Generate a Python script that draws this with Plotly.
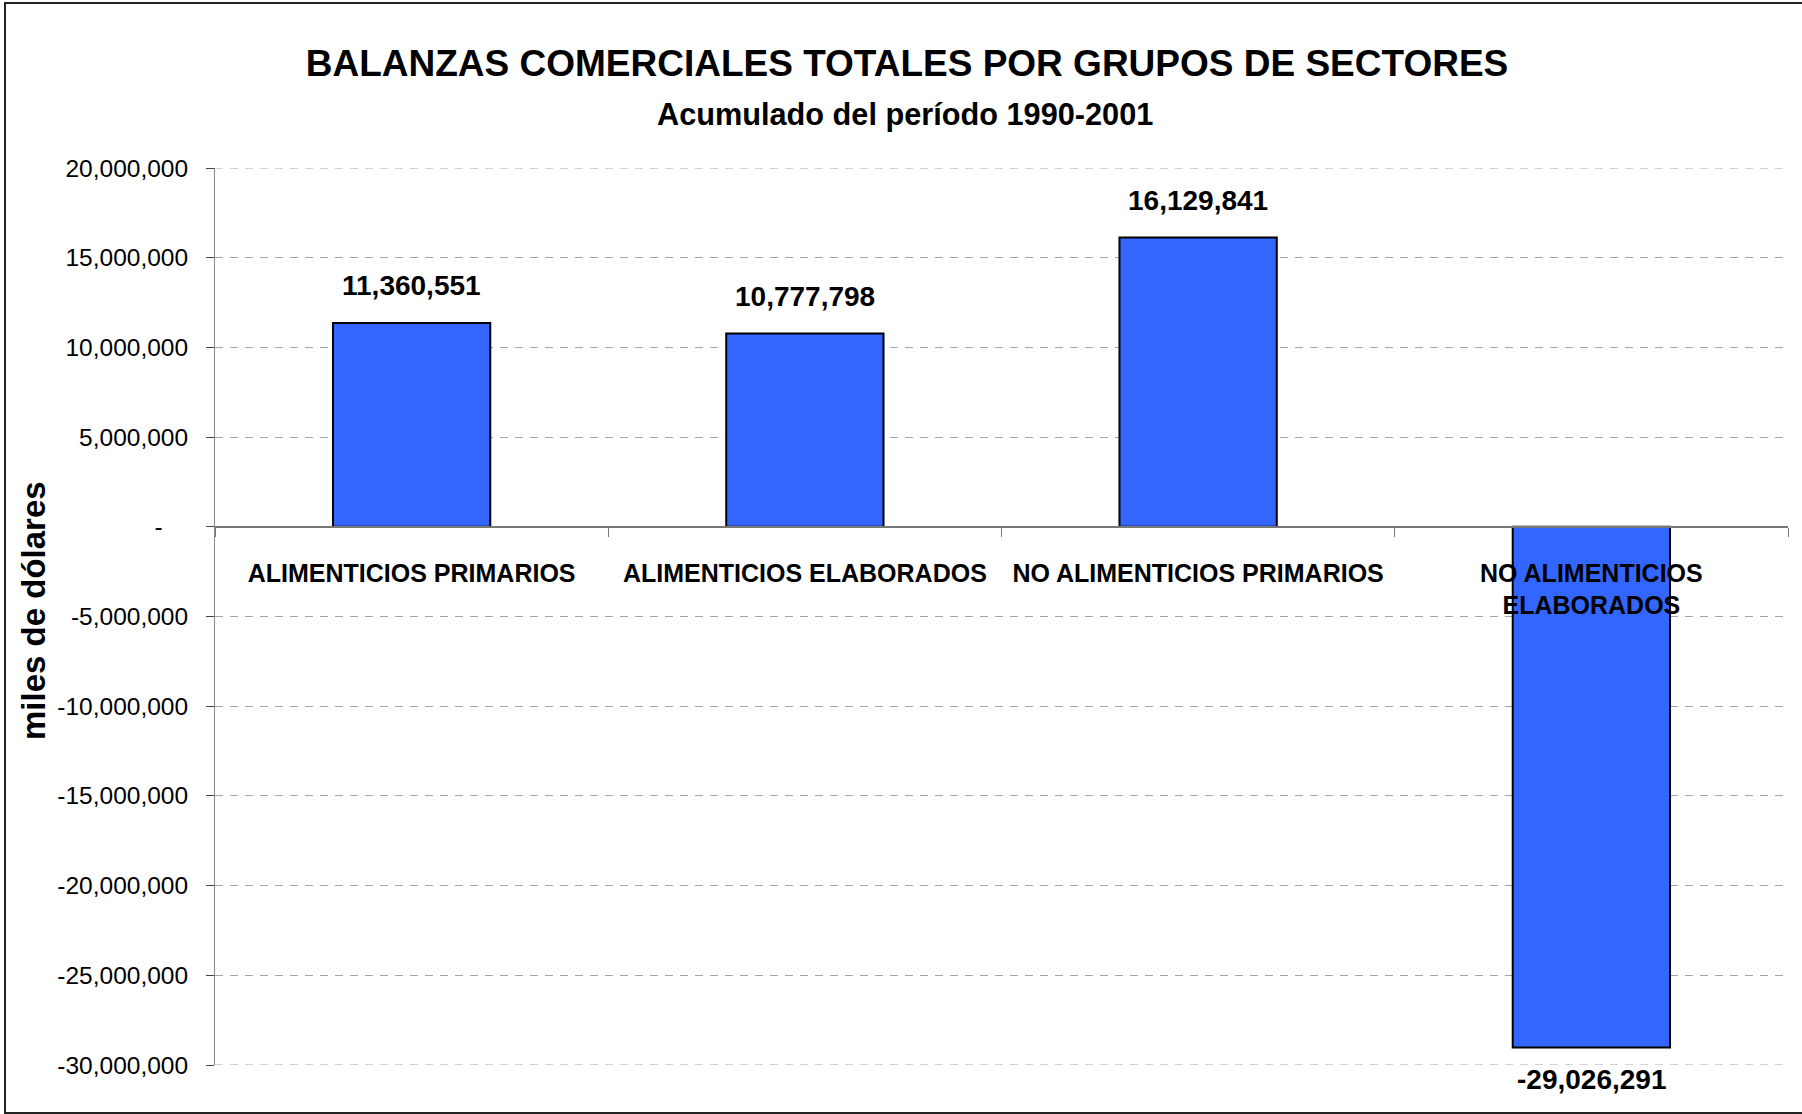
import plotly.graph_objects as go

categories = ["ALIMENTICIOS PRIMARIOS", "ALIMENTICIOS ELABORADOS",
              "NO ALIMENTICIOS PRIMARIOS", "NO ALIMENTICIOS<br>ELABORADOS"]
values = [11360551, 10777798, 16129841, -29026291]
ytick_vals = [20000000, 15000000, 10000000, 5000000, 0,
              -5000000, -10000000, -15000000, -20000000, -25000000, -30000000]
ytick_text = ["20,000,000", "15,000,000", "10,000,000", "5,000,000",
              "-\u00a0\u00a0\u00a0\u2009",
              "-5,000,000", "-10,000,000", "-15,000,000", "-20,000,000",
              "-25,000,000", "-30,000,000"]

FONT = "Liberation Sans, Arial, sans-serif"
W, H = 1802, 1114
L, R, T, B = 215, 14, 168, 49
PW, PH = W - L - R, H - T - B
GRID = "#A6A6A6"

fig = go.Figure()
fig.add_trace(go.Bar(
    x=categories, y=values, width=0.4,
    marker=dict(color="#3366FF", line=dict(color="#000000", width=2)),
    hoverinfo="x+y",
))

# data labels
for c, v in zip(categories, values):
    fig.add_annotation(
        x=c, y=v, xref="x", yref="y",
        text=f"{v:,}", showarrow=False,
        yanchor="middle", yshift=37 if v >= 0 else -32,
        font=dict(family=FONT, size=28, color="#000000", weight="bold"),
    )

# gridlines at the range ends (plotly omits them at the plot edges)
for yv in (ytick_vals[0], ytick_vals[-1]):
    fig.add_shape(type="line", xref="paper", yref="y", x0=0, x1=1, y0=yv, y1=yv,
                  line=dict(color=GRID, width=1, dash="8px,7px"), layer="below")

# subtitle
fig.add_annotation(
    x=(905 - L) / PW, y=(H - B - 115) / PH, xref="paper", yref="paper",
    text="Acumulado del período 1990-2001", showarrow=False,
    xanchor="center", yanchor="middle",
    font=dict(family=FONT, size=30.7, color="#000000", weight="bold"),
)

# y-axis title
fig.add_annotation(
    x=(33 - L) / PW, y=(H - B - 611) / PH, xref="paper", yref="paper",
    text="miles de dólares", showarrow=False, textangle=-90,
    xanchor="center", yanchor="middle",
    font=dict(family=FONT, size=33, color="#000000", weight="bold"),
)

# outer chart border
fig.add_shape(
    type="rect", xref="paper", yref="paper",
    x0=(5 - L) / PW, x1=(W + 5 - L) / PW,
    y0=(H - B - 1113) / PH, y1=(H - B - 3) / PH,
    line=dict(color="#222222", width=2), fillcolor="rgba(0,0,0,0)", layer="above",
)

fig.update_layout(
    width=W, height=H,
    margin=dict(l=L, r=R, t=T, b=B),
    paper_bgcolor="white", plot_bgcolor="white",
    showlegend=False,
    title=dict(
        text="BALANZAS COMERCIALES TOTALES POR GRUPOS DE SECTORES",
        x=907 / W, y=1 - 63 / H, xref="container", yref="container",
        xanchor="center", yanchor="middle",
        font=dict(family=FONT, size=37, color="#000000", weight="bold"),
    ),
    xaxis=dict(
        type="category", range=[-0.5, 3.5],
        anchor="free", position=30 / 50,
        showline=True, linecolor="#777777", linewidth=2,
        ticks="outside", tickson="boundaries", ticklen=9, tickcolor="#777777",
        tickwidth=1, ticklabelstandoff=24,
        showgrid=False, zeroline=False,
        tickfont=dict(family=FONT, size=25, color="#000000", weight="bold"),
    ),
    yaxis=dict(
        range=[-30000000, 20000000],
        tickvals=ytick_vals, ticktext=ytick_text,
        showline=True, linecolor="#888888", linewidth=1,
        ticks="outside", ticklen=8, tickcolor="#444444", tickwidth=1,
        ticklabelstandoff=13,
        showgrid=True, gridcolor=GRID, gridwidth=1, griddash="8px,7px",
        zeroline=False,
        tickfont=dict(family=FONT, size=24.5, color="#000000"),
    ),
)

fig.write_html("out.html",
               config={"displayModeBar": False},
               post_script="document.body.style.margin='0';document.body.style.overflow='hidden';")
